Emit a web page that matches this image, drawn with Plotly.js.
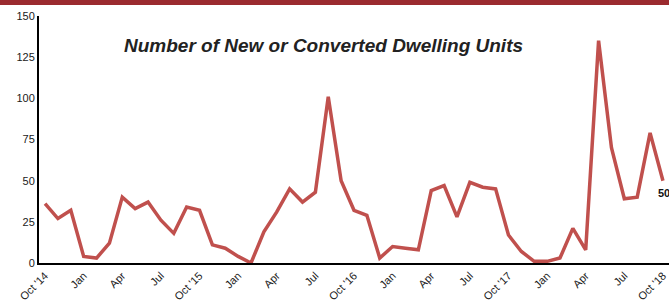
<!DOCTYPE html>
<html>
<head>
<meta charset="utf-8">
<script src="https://cdn.plot.ly/plotly-3.0.1.min.js"></script>
<style>html,body{margin:0;padding:0;background:#fff;}#chart{width:669px;height:301px;}</style>
</head>
<body>
<div id="chart"></div>
<script>
// Monthly, Oct 2014 .. Oct 2018
const months = ["Oct '14","Nov '14","Dec '14","Jan '15","Feb '15","Mar '15","Apr '15","May '15","Jun '15","Jul '15","Aug '15","Sep '15",
"Oct '15","Nov '15","Dec '15","Jan '16","Feb '16","Mar '16","Apr '16","May '16","Jun '16","Jul '16","Aug '16","Sep '16",
"Oct '16","Nov '16","Dec '16","Jan '17","Feb '17","Mar '17","Apr '17","May '17","Jun '17","Jul '17","Aug '17","Sep '17",
"Oct '17","Nov '17","Dec '17","Jan '18","Feb '18","Mar '18","Apr '18","May '18","Jun '18","Jul '18","Aug '18","Sep '18","Oct '18"];
const units = [36,27,32,4,3,12,40,33,37,26,18,34,
32,11,9,4,0,19,31,45,37,43,101,50,
32,29,3,10,9,8,44,47,28,49,46,45,
17,7,1,1,3,21,8,135,70,39,40,79,50];
const tickLabels = ["Oct '14","Jan","Apr","Jul","Oct '15","Jan","Apr","Jul","Oct '16","Jan","Apr","Jul","Oct '17","Jan","Apr","Jul","Oct '18"];
const tickIdx = tickLabels.map((_, i) => i * 3);
const yTicks = [0,25,50,75,100,125,150];
const chartTitle = "Number of New or Converted Dwelling Units";
const lastLabel = "50";

const xIdx = units.map((_, i) => i);
const plotW = 630;

Plotly.newPlot('chart', [{
  x: xIdx, y: units, type: 'scatter', mode: 'lines',
  line: {color: '#c0504d', width: 3.5},
  text: months, hoverinfo: 'text+y'
}], {
  width: 669, height: 301,
  margin: {l: 39, r: 0, t: 16, b: 38},
  paper_bgcolor: '#fff', plot_bgcolor: '#fff',
  showlegend: false,
  font: {family: 'Liberation Sans, Arial, sans-serif', color: '#222', size: 11},
  xaxis: {
    range: [-0.47, 48.47], tickmode: 'array', tickvals: tickIdx, ticktext: tickLabels,
    tickangle: -45, showgrid: false, zeroline: false, showline: true,
    linecolor: '#000', linewidth: 2, ticks: '', tickfont: {size: 11, color: '#1a1a1a'}
  },
  yaxis: {
    range: [0, 150], tickmode: 'array', tickvals: yTicks, showgrid: false,
    zeroline: false, showline: true, linecolor: '#000', linewidth: 2, ticks: '',
    ticklen: 0, tickfont: {size: 11, color: '#1a1a1a'}
  },
  annotations: [
    {text: '<b><i>' + chartTitle + '</i></b>', xref: 'paper', yref: 'paper',
     x: (122 - 39) / plotW, y: 1 - (45 - 16) / 247, xanchor: 'left', yanchor: 'middle',
     showarrow: false, font: {size: 19, color: '#222', family: 'Liberation Sans, Arial, sans-serif'}},
    {text: '<b>' + lastLabel + '</b>', x: 48, y: units[48], xref: 'x', yref: 'y',
     xanchor: 'left', yanchor: 'middle', xshift: -7, yshift: -12, showarrow: false,
     font: {size: 11, color: '#111'}}
  ],
  shapes: [
    {type: 'rect', xref: 'paper', yref: 'paper', x0: -39 / plotW, x1: 1,
     y0: 1 + 11 / 247, y1: 1 + 16 / 247, fillcolor: '#9b2b2f', line: {width: 0}, layer: 'above'}
  ]
}, {displayModeBar: false, staticPlot: true});
</script>
</body>
</html>
